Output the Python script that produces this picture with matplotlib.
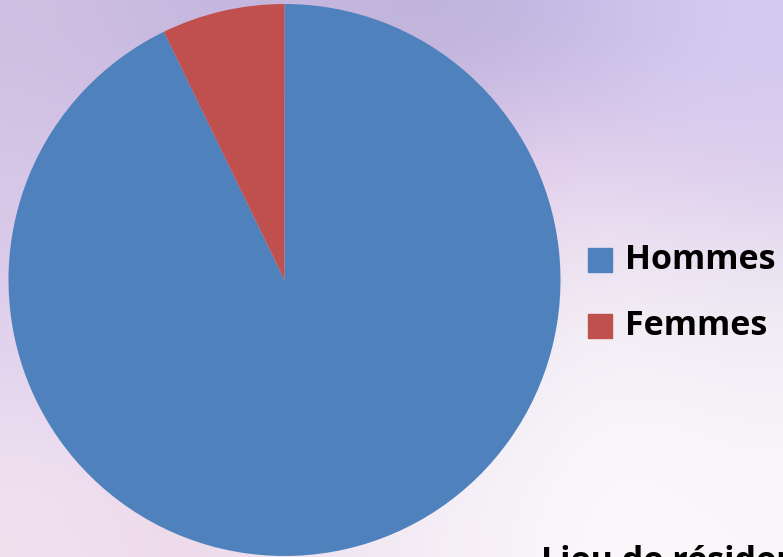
import numpy as np
import matplotlib
matplotlib.use("Agg")
import matplotlib.pyplot as plt

labels = ["Hommes", "Femmes"]
values = [92.8, 7.2]
colors = ["#4F81BD", "#C0504D"]
footer = "Lieu de résidence"

# rough colours of the blurred photo behind the chart
bg_grid = [
    ["#CFC0E2", "#C4B6DE", "#C6B6DC", "#BCB2DA", "#C6BCE6", "#D4CCF2"],
    ["#D6C6E8", "#D2C2E6", "#CCBEE2", "#E4CCEC", "#E8D2EE", "#DCCCEC"],
    ["#DCCCEA", "#D8C8E8", "#D8C8E6", "#E2D6EA", "#F2ECF4", "#ECE6F2"],
    ["#E6D8F0", "#E4D4EC", "#E8DCEE", "#EEE6F2", "#FAF6FA", "#F6F2F8"],
    ["#F2E2F0", "#ECD8EA", "#F0E6F2", "#F6F0F6", "#FCF8FC", "#FAF6FA"],
]

W, H = 783, 557
fig = plt.figure(figsize=(W / 100, H / 100), dpi=100)

bg = fig.add_axes([0, 0, 1, 1])
rgb = np.array([[matplotlib.colors.to_rgb(c) for c in row] for row in bg_grid])
bg.imshow(rgb, aspect="auto", interpolation="bicubic", extent=[0, 1, 0, 1])
bg.set_axis_off()

# pie: centre ~ (284.5, 280) px, radius ~276 px
r = 276
cx, cy = 284.5, 280
ax = fig.add_axes([(cx - r) / W, (H - cy - r) / H, 2 * r / W, 2 * r / H])
ax.pie(values, colors=colors, startangle=90, counterclock=False,
       wedgeprops=dict(linewidth=0), radius=1)
ax.set_xlim(-1, 1)
ax.set_ylim(-1, 1)
ax.set_aspect("equal")
ax.set_axis_off()

# legend drawn by hand: squares and bold labels
font = dict(family=["Open Sans", "DejaVu Sans"], weight="bold", size=24.5, color="black")
rows_y = [260, 326]
for lab, col, y in zip(labels, colors, rows_y):
    fig.patches.append(plt.Rectangle((588 / W, (H - y - 12) / H), 24 / W, 24 / H,
                                     transform=fig.transFigure, color=col))
    fig.text(625 / W, (H - y) / H, lab, va="center", ha="left", **font)

# title of the next chart, cut by the bottom edge as in the slide
fig.text(541 / W, (H - 571) / H, footer, va="baseline", ha="left", **font)

fig.savefig("out.png", dpi=100)
